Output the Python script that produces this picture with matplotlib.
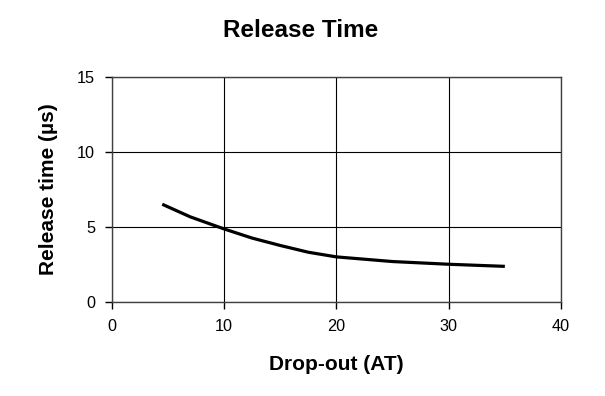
import matplotlib
matplotlib.use("Agg")
import matplotlib.pyplot as plt

plt.rcParams['font.family'] = ['Liberation Sans', 'DejaVu Sans']

drop_out = [4.5, 7, 10, 12.5, 15, 17.5, 20, 25, 30, 35]
release_time = [6.52, 5.68, 4.88, 4.27, 3.78, 3.33, 3.02, 2.71, 2.53, 2.39]
x_ticks = [0, 10, 20, 30, 40]
y_ticks = [0, 5, 10, 15]

fig = plt.figure(figsize=(6.05, 3.96), dpi=100)
ax = fig.add_axes([0.1846, 0.2366, 0.9273 - 0.1846, 0.8063 - 0.2366])

ax.plot(drop_out, release_time, color='black', linewidth=2.3,
        solid_capstyle='butt', solid_joinstyle='round', zorder=3)

ax.set_xlim(0, 40)
ax.set_ylim(0, 15)
ax.set_xticks(x_ticks)
ax.set_yticks(y_ticks)
ax.grid(True, color='black', linewidth=0.8)
for s in ax.spines.values():
    s.set_color('#404040')
    s.set_linewidth(1.0)
ax.tick_params(direction='out', length=5, width=1, color='black', labelsize=11.7, pad=7)

ax.set_xlabel('Drop-out (AT)', fontsize=15, fontweight='bold', labelpad=15)
ax.set_ylabel('Release time (µs)', fontsize=15, fontweight='bold', labelpad=14)
fig.text(0.497, 0.922, 'Release Time', ha='center', va='center', fontsize=17.5, fontweight='bold')

fig.savefig('out.png', dpi=100)
